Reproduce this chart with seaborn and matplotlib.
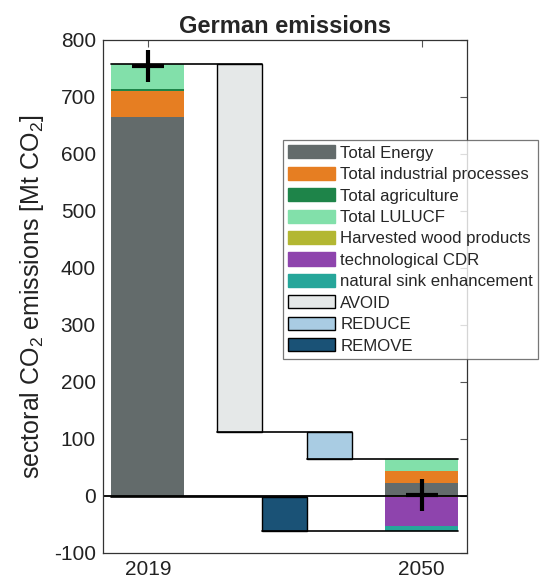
import numpy as np
import pandas as pd
import matplotlib
matplotlib.use("Agg")
import matplotlib.pyplot as plt
import seaborn as sns
from matplotlib.patches import Patch

# ---------------- data ----------------
categories = ["Total Energy", "Total industrial processes", "Total agriculture",
              "Total LULUCF", "Harvested wood products", "technological CDR",
              "natural sink enhancement"]
values_2019 = [665, 46, 3, 43, -2, 0, 0]
values_2050 = [22, 22, 0, 20, -2, -51, -9]
steps = ["AVOID", "REDUCE", "REMOVE"]
step_values = [645, 48, 60]
years = [2019, 2050]
tick_labels = ["2019", "2050"]

colors = ["#636b6b", "#e67e22", "#1e8449", "#82e0aa", "#b3b732", "#8e44ad", "#26a69a"]
step_colors = ["#e5e8e8", "#a9cce3", "#1a5276"]

sns.set_theme(style="white")
plt.rcParams['font.family'] = ['Liberation Sans', 'DejaVu Sans']
plt.rcParams['axes.unicode_minus'] = False
plt.rcParams['mathtext.fontset'] = 'custom'
plt.rcParams['mathtext.rm'] = 'Liberation Sans'

df = pd.DataFrame({"category": categories, "2019": values_2019, "2050": values_2050})

fig = plt.figure(figsize=(5.44, 5.87), dpi=100)
ax = fig.add_axes([0.189, 0.058, 0.669, 0.874])

bar_w = 8.26
step_w = 5.1
x_avoid, x_remove, x_reduce = 2029.35, 2034.5, 2039.6

# stacked year bars
for yr in years:
    vals = df[str(yr)].values
    pos_base, neg_base = 0.0, 0.0
    for v, c in zip(vals, colors):
        if v >= 0:
            ax.bar(yr, v, bottom=pos_base, width=bar_w, color=c, linewidth=0)
            pos_base += v
        else:
            ax.bar(yr, v, bottom=neg_base, width=bar_w, color=c, linewidth=0)
            neg_base += v

pos19 = sum(v for v in values_2019 if v > 0)
neg19 = sum(v for v in values_2019 if v < 0)

avoid, reduce_, remove = step_values
ax.bar(x_avoid, avoid, bottom=pos19 - avoid, width=step_w, color=step_colors[0],
       edgecolor="black", linewidth=1)
ax.bar(x_reduce, reduce_, bottom=pos19 - avoid - reduce_, width=step_w, color=step_colors[1],
       edgecolor="black", linewidth=1)
ax.bar(x_remove, -remove, bottom=neg19, width=step_w, color=step_colors[2],
       edgecolor="black", linewidth=1)

# connector lines
lw = 1.2
ax.plot([2019 - bar_w / 2, x_avoid + step_w / 2], [pos19, pos19], color="black", lw=lw)
ax.plot([x_avoid - step_w / 2, x_reduce + step_w / 2], [pos19 - avoid] * 2, color="black", lw=lw)
ax.plot([x_reduce - step_w / 2, 2050 + bar_w / 2], [pos19 - avoid - reduce_] * 2, color="black", lw=lw)
ax.plot([2019 - bar_w / 2, x_remove + step_w / 2], [neg19, neg19], color="black", lw=lw)
ax.plot([x_remove - step_w / 2, 2050 + bar_w / 2], [neg19 - remove] * 2, color="black", lw=lw)

ax.axhline(0, color="black", lw=1.3)

# net markers
nets = [sum(values_2019), sum(values_2050)]
ax.plot(years, nets, linestyle="none", marker="+", markersize=23, mew=3, color="black")

ax.set_xlim(2013.9, 2055.1)
ax.set_ylim(-100, 800)
ax.set_xticks(years)
ax.set_xticklabels(tick_labels)
ax.set_yticks(np.arange(-100, 801, 100))
ax.tick_params(direction="in", length=5, width=0.8, color="#555555",
               labelsize=15, top=True, right=True, labelcolor="#222222", pad=5)
for s in ax.spines.values():
    s.set_color("#333333")
    s.set_linewidth(0.9)

ax.set_ylabel("sectoral CO$_2$ emissions [Mt CO$_2$]", fontsize=18, color="#222222", labelpad=6)
ax.set_title("German emissions", fontsize=17, fontweight="bold", pad=5)

handles = [Patch(facecolor=c, edgecolor=c, label=l) for c, l in zip(colors, categories)]
handles += [Patch(facecolor=c, edgecolor="black", label=l) for c, l in zip(step_colors, steps)]
leg = fig.legend(handles=handles, loc="upper left", bbox_to_anchor=(0.520, 0.7615),
                 fontsize=12.1, frameon=True, fancybox=False, handlelength=2.8,
                 handleheight=0.82, labelspacing=0.36, handletextpad=0.3,
                 borderpad=0.32, borderaxespad=0)
leg.get_frame().set_edgecolor("#555555")
leg.get_frame().set_linewidth(0.9)

fig.savefig("out.png", dpi=100)
